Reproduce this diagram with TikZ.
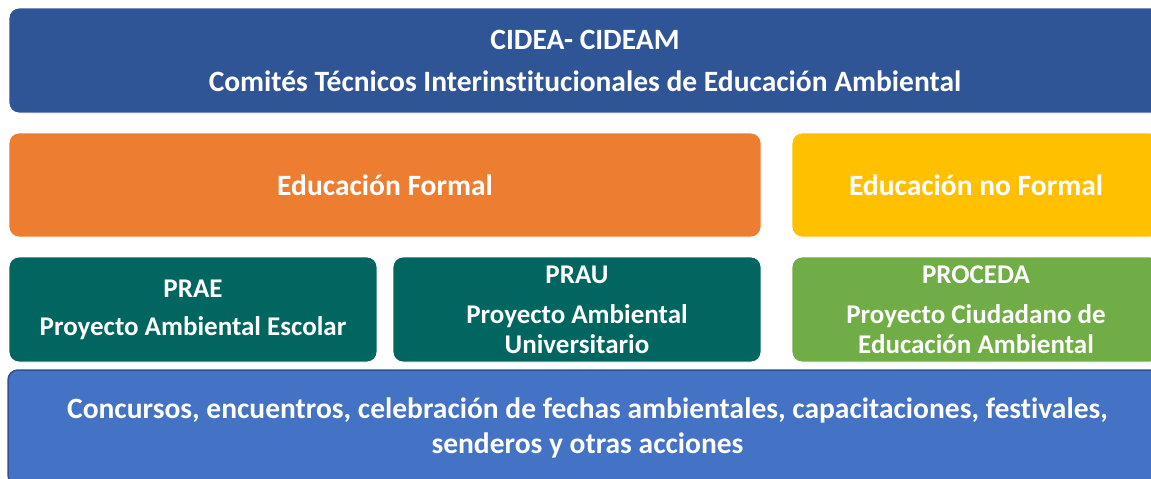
\documentclass[tikz,border=0pt]{standalone}
\usepackage{fontspec}
\setmainfont{Carlito}[Ligatures=NoCommon]

\definecolor{cideablue}{HTML}{2F5597}
\definecolor{formalorange}{HTML}{ED7D31}
\definecolor{noformalyellow}{HTML}{FFC000}
\definecolor{proyteal}{HTML}{00665F}
\definecolor{procedagreen}{HTML}{70AD47}
\definecolor{accionblue}{HTML}{4472C4}
\definecolor{accionedge}{HTML}{2F528F}

\tikzset{
  panel/.style={rounded corners=10pt, draw=white, line width=0.8pt, text=white,
    align=center, inner sep=0pt, font=\fontsize{29.5}{35}\selectfont\bfseries},
  wide/.style={minimum width=368, minimum height=105, font=\fontsize{27}{30}\selectfont\bfseries}
}

\begin{document}
\begin{tikzpicture}[x=1pt,y=-1pt]
\useasboundingbox (0,0) rectangle (1151,479);
\clip (0,0) rectangle (1151,479);

% comites
\node[panel, fill=cideablue, minimum width=1152, minimum height=105] (cidea) at (585,60.5)
  {CIDEA- CIDEAM\\[7pt]Comités Técnicos Interinstitucionales de Educación Ambiental};

% tipos de educacion
\node[panel, fill=formalorange, minimum width=752, minimum height=104] (formal) at (385,185)
  {Educación Formal};
\node[panel, fill=noformalyellow, minimum width=368, minimum height=104] (noformal) at (976,185)
  {Educación no Formal};

% proyectos
\node[panel, wide, fill=proyteal] (prae) at (193,309.5)
  {PRAE\\[8pt]Proyecto Ambiental Escolar};
\node[panel, wide, fill=proyteal] (prau) at (577,309.5)
  {PRAU\\[10pt]Proyecto Ambiental\\Universitario};
\node[panel, wide, fill=procedagreen] (proceda) at (976,309.5)
  {PROCEDA\\[10pt]Proyecto Ciudadano de\\Educación Ambiental};

% acciones
\node[panel, draw=accionedge, line width=1.5pt, fill=accionblue, minimum width=1159, minimum height=115] (acciones) at (587.5,427.5)
  {Concursos, encuentros, celebración de fechas ambientales, capacitaciones, festivales,\\senderos y otras acciones};
\end{tikzpicture}
\end{document}
